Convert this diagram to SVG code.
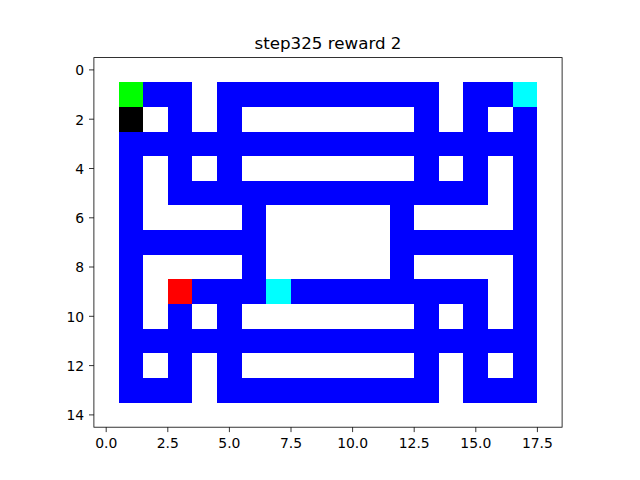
<svg xmlns="http://www.w3.org/2000/svg" width="640" height="480" viewBox="0 0 640 480">
<style>
.b{fill:#0000ff}
.t{font-family:"DejaVu Sans",sans-serif;font-size:13.9px;fill:#000}
.tk{stroke:#000;stroke-width:0.8}
</style>
<rect width="640" height="480" fill="#fff"/>
<g id="grid" transform="translate(93.9,57.6) scale(24.64)" shape-rendering="crispEdges">
<rect x="0" y="0" width="19" height="15" fill="#fff"/>
<g class="b">
<rect x="2" y="1" width="2" height="1"/><rect x="5" y="1" width="9" height="1"/><rect x="15" y="1" width="2" height="1"/>
<rect x="3" y="2" width="1" height="1"/><rect x="5" y="2" width="1" height="1"/><rect x="13" y="2" width="1" height="1"/><rect x="15" y="2" width="1" height="1"/><rect x="17" y="2" width="1" height="1"/>
<rect x="1" y="3" width="17" height="1"/>
<rect x="1" y="4" width="1" height="1"/><rect x="3" y="4" width="1" height="1"/><rect x="5" y="4" width="1" height="1"/><rect x="13" y="4" width="1" height="1"/><rect x="15" y="4" width="1" height="1"/><rect x="17" y="4" width="1" height="1"/>
<rect x="1" y="5" width="1" height="1"/><rect x="3" y="5" width="13" height="1"/><rect x="17" y="5" width="1" height="1"/>
<rect x="1" y="6" width="1" height="1"/><rect x="6" y="6" width="1" height="1"/><rect x="12" y="6" width="1" height="1"/><rect x="17" y="6" width="1" height="1"/>
<rect x="1" y="7" width="6" height="1"/><rect x="12" y="7" width="6" height="1"/>
<rect x="1" y="8" width="1" height="1"/><rect x="6" y="8" width="1" height="1"/><rect x="12" y="8" width="1" height="1"/><rect x="17" y="8" width="1" height="1"/>
<rect x="1" y="9" width="1" height="1"/><rect x="4" y="9" width="3" height="1"/><rect x="8" y="9" width="8" height="1"/><rect x="17" y="9" width="1" height="1"/>
<rect x="1" y="10" width="1" height="1"/><rect x="3" y="10" width="1" height="1"/><rect x="5" y="10" width="1" height="1"/><rect x="13" y="10" width="1" height="1"/><rect x="15" y="10" width="1" height="1"/><rect x="17" y="10" width="1" height="1"/>
<rect x="1" y="11" width="17" height="1"/>
<rect x="1" y="12" width="1" height="1"/><rect x="3" y="12" width="1" height="1"/><rect x="5" y="12" width="1" height="1"/><rect x="13" y="12" width="1" height="1"/><rect x="15" y="12" width="1" height="1"/><rect x="17" y="12" width="1" height="1"/>
<rect x="1" y="13" width="3" height="1"/><rect x="5" y="13" width="9" height="1"/><rect x="15" y="13" width="3" height="1"/>
</g>
<rect x="1" y="1" width="1" height="1" fill="#00ff00"/>
<rect x="1" y="2" width="1" height="1" fill="#000000"/>
<rect x="17" y="1" width="1" height="1" fill="#00ffff"/>
<rect x="7" y="9" width="1" height="1" fill="#00ffff"/>
<rect x="3" y="9" width="1" height="1" fill="#ff0000"/>
</g>
<rect id="frame" x="93.9" y="57.6" width="468.2" height="369.6" fill="none" stroke="#000" stroke-width="0.8"/>
<g id="xticks">
<g class="tk">
<line x1="106.2" y1="427.2" x2="106.2" y2="432.1"/><line x1="167.8" y1="427.2" x2="167.8" y2="432.1"/><line x1="229.4" y1="427.2" x2="229.4" y2="432.1"/><line x1="291.0" y1="427.2" x2="291.0" y2="432.1"/><line x1="352.6" y1="427.2" x2="352.6" y2="432.1"/><line x1="414.2" y1="427.2" x2="414.2" y2="432.1"/><line x1="475.8" y1="427.2" x2="475.8" y2="432.1"/><line x1="537.4" y1="427.2" x2="537.4" y2="432.1"/>
</g>
<g class="t" text-anchor="middle">
<text x="106.2" y="448">0.0</text><text x="167.8" y="448">2.5</text><text x="229.4" y="448">5.0</text><text x="291.0" y="448">7.5</text><text x="352.6" y="448">10.0</text><text x="414.2" y="448">12.5</text><text x="475.8" y="448">15.0</text><text x="537.4" y="448">17.5</text>
</g>
</g>
<g id="yticks">
<g class="tk">
<line x1="89.0" y1="69.9" x2="93.9" y2="69.9"/><line x1="89.0" y1="119.2" x2="93.9" y2="119.2"/><line x1="89.0" y1="168.5" x2="93.9" y2="168.5"/><line x1="89.0" y1="217.8" x2="93.9" y2="217.8"/><line x1="89.0" y1="267.0" x2="93.9" y2="267.0"/><line x1="89.0" y1="316.3" x2="93.9" y2="316.3"/><line x1="89.0" y1="365.6" x2="93.9" y2="365.6"/><line x1="89.0" y1="414.9" x2="93.9" y2="414.9"/>
</g>
<g class="t" text-anchor="end">
<text x="84.2" y="75.2">0</text><text x="84.2" y="124.5">2</text><text x="84.2" y="173.8">4</text><text x="84.2" y="223.1">6</text><text x="84.2" y="272.3">8</text><text x="84.2" y="321.6">10</text><text x="84.2" y="370.9">12</text><text x="84.2" y="420.2">14</text>
</g>
</g>
<text id="title" x="328" y="49.3" text-anchor="middle" style="font-family:'DejaVu Sans',sans-serif;font-size:16.7px">step325 reward 2</text>
</svg>
